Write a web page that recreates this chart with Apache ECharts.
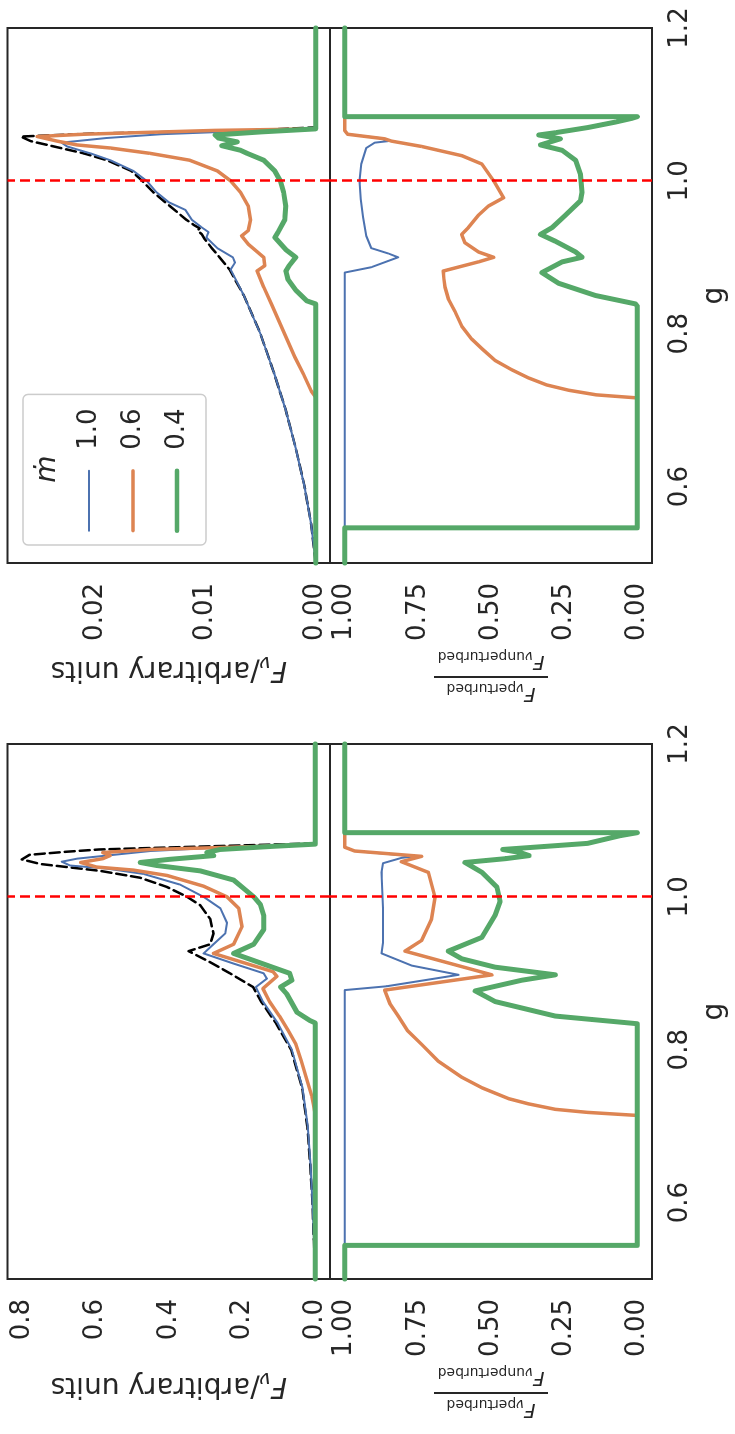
<!DOCTYPE html>
<html>
<head>
<meta charset="utf-8">
<script src="https://cdn.jsdelivr.net/npm/echarts@6/dist/echarts.min.js"></script>
<style>
  html, body { margin: 0; padding: 0; background: #fff; }
  body { width: 735px; height: 1434px; overflow: hidden; position: relative; }
  /* figure is laid out landscape and turned a quarter turn anticlockwise */
  #chart {
    position: absolute; left: 0; top: 0;
    width: 1434px; height: 735px;
    transform-origin: 0 0;
    transform: translate(0, 1434px) rotate(-90deg);
  }
</style>
</head>
<body>
<div id="chart"></div>
<script>
// ---------- data: left panel (large scale) ----------
const gBlackL  = [0.50,0.55,0.60,0.65,0.70,0.75,0.80,0.835,0.863,0.882,0.900,0.915,0.929,0.938,0.952,0.971,0.989,1.000,1.013,1.025,1.034,1.039,1.043,1.049,1.055,1.059,1.062,1.066,1.070,1.20];
const fBlackL  = [0,0.004,0.008,0.014,0.022,0.036,0.066,0.108,0.148,0.170,0.233,0.289,0.346,0.287,0.278,0.287,0.314,0.350,0.405,0.478,0.587,0.678,0.750,0.801,0.780,0.680,0.590,0.300,0,0];

const gBlueL   = [0.50,0.55,0.60,0.65,0.70,0.75,0.80,0.835,0.863,0.882,0.893,0.900,0.913,0.926,0.938,0.952,0.966,0.985,1.000,1.016,1.030,1.037,1.041,1.046,1.050,1.053,1.060,1.066,1.070,1.20];
const fBlueL   = [0,0.004,0.008,0.013,0.021,0.035,0.064,0.103,0.143,0.162,0.132,0.141,0.225,0.305,0.278,0.246,0.241,0.259,0.305,0.369,0.469,0.569,0.669,0.692,0.650,0.590,0.450,0.200,0,0];

const gOrangeL = [0.50,0.715,0.725,0.740,0.764,0.785,0.807,0.825,0.844,0.863,0.880,0.896,0.902,0.926,0.938,0.961,0.985,1.000,1.014,1.028,1.035,1.039,1.045,1.050,1.054,1.058,1.062,1.066,1.069,1.20];
const fOrangeL = [0,0,0.004,0.010,0.025,0.038,0.053,0.074,0.098,0.125,0.143,0.105,0.115,0.278,0.223,0.200,0.209,0.241,0.305,0.405,0.496,0.597,0.640,0.580,0.560,0.580,0.450,0.150,0,0];

const gGreenL  = [0.50,0.835,0.838,0.849,0.873,0.882,0.891,0.900,0.926,0.938,0.957,0.976,0.990,1.000,1.022,1.034,1.041,1.045,1.049,1.054,1.058,1.062,1.066,1.069,1.20];
const fGreenL  = [0,0,0.014,0.050,0.078,0.095,0.064,0.070,0.223,0.168,0.141,0.141,0.150,0.168,0.223,0.314,0.432,0.478,0.400,0.277,0.296,0.260,0.120,0,0];

const gBlueLR   = [0.50,0.878,0.883,0.898,0.910,0.926,0.940,0.985,1.032,1.044,1.051,1.053,1.060,1.065,1.20];
const rBlueLR   = [1,1,0.857,0.611,0.770,0.874,0.869,0.869,0.874,0.869,0.806,0.760,0.966,1,1];

const gOrangeLR = [0.50,0.544,0.544,0.714,0.718,0.722,0.729,0.736,0.750,0.764,0.785,0.807,0.825,0.844,0.860,0.878,0.898,0.929,0.943,0.971,0.999,1.032,1.046,1.053,1.060,1.065,1.20];
const rOrangeLR = [1,1,0,0,0.170,0.280,0.370,0.440,0.530,0.600,0.680,0.737,0.785,0.817,0.845,0.863,0.497,0.794,0.737,0.703,0.691,0.714,0.806,0.737,0.966,1,1];

const gGreenLR  = [0.50,0.544,0.544,0.834,0.844,0.863,0.877,0.891,0.898,0.908,0.919,0.929,0.947,0.976,0.994,1.013,1.032,1.045,1.050,1.054,1.058,1.062,1.070,1.080,1.084,1.084,1.20];
const rGreenLR  = [1,1,0,0,0.280,0.486,0.554,0.394,0.280,0.486,0.600,0.646,0.531,0.486,0.469,0.480,0.531,0.589,0.450,0.370,0.400,0.460,0.170,0.060,0,1,1];

// ---------- data: right panel (small scale) ----------
const gBlackR  = [0.50,0.55,0.60,0.65,0.70,0.75,0.80,0.85,0.884,0.900,0.912,0.925,0.930,0.935,0.938,0.942,0.949,0.967,0.985,1.000,1.013,1.027,1.036,1.045,1.052,1.058,1.062,1.066,1.070,1.20];
const fBlackR  = [0,0.0004,0.0010,0.0018,0.0027,0.0038,0.0050,0.0065,0.0078,0.0087,0.0094,0.0101,0.0103,0.0107,0.0105,0.0110,0.0117,0.0132,0.0147,0.0157,0.0167,0.0189,0.0210,0.0237,0.0258,0.0267,0.0200,0.0060,0,0];

const gBlueR   = [0.50,0.55,0.60,0.65,0.70,0.75,0.80,0.85,0.884,0.893,0.900,0.912,0.926,0.933,0.940,0.949,0.962,0.972,0.985,1.000,1.013,1.027,1.036,1.045,1.050,1.056,1.061,1.066,1.068,1.20];
const fBlueR   = [0,0.0004,0.0010,0.0018,0.0027,0.0038,0.0050,0.0065,0.0077,0.0073,0.0075,0.0089,0.0099,0.0097,0.0104,0.0112,0.0118,0.0133,0.0144,0.0153,0.0165,0.0186,0.0204,0.0225,0.0230,0.0190,0.0140,0.0050,0,0];

const gOrangeR = [0.50,0.717,0.725,0.747,0.770,0.793,0.816,0.839,0.861,0.882,0.889,0.900,0.917,0.928,0.935,0.949,0.967,0.985,1.000,1.013,1.027,1.036,1.043,1.047,1.052,1.058,1.061,1.066,1.068,1.20];
const fOrangeR = [0,0,0.0004,0.0011,0.0019,0.0026,0.0033,0.0040,0.0047,0.0053,0.0046,0.0047,0.0061,0.0067,0.0061,0.0059,0.0061,0.0068,0.0077,0.0089,0.0114,0.0150,0.0186,0.0216,0.0234,0.0252,0.0210,0.0092,0,0];

const gGreenR  = [0.50,0.839,0.843,0.857,0.871,0.882,0.889,0.900,0.910,0.926,0.933,0.949,0.967,0.985,1.000,1.013,1.027,1.036,1.040,1.046,1.051,1.056,1.060,1.064,1.068,1.20];
const fGreenR  = [0,0,0.0008,0.0018,0.0025,0.0027,0.0024,0.0018,0.0027,0.0037,0.0034,0.0028,0.0027,0.0029,0.0032,0.0037,0.0047,0.0062,0.0068,0.0085,0.0071,0.0088,0.0091,0.0050,0,0];

const gBlueRR   = [0.50,0.880,0.887,0.900,0.905,0.912,0.928,0.953,0.976,1.000,1.022,1.043,1.050,1.052,1.056,1.061,1.066,1.20];
const rBlueRR   = [1,1,0.909,0.817,0.851,0.909,0.926,0.937,0.945,0.949,0.943,0.926,0.897,0.851,0.880,0.990,1,1];

const gOrangeRR = [0.50,0.546,0.546,0.716,0.720,0.726,0.733,0.742,0.753,0.765,0.780,0.793,0.810,0.829,0.845,0.861,0.872,0.882,0.894,0.900,0.907,0.919,0.930,0.939,0.955,0.967,0.978,1.000,1.022,1.033,1.045,1.052,1.055,1.061,1.066,1.20];
const rOrangeRR = [1,1,0,0,0.140,0.234,0.310,0.371,0.430,0.486,0.530,0.566,0.600,0.623,0.645,0.657,0.661,0.663,0.543,0.491,0.543,0.589,0.600,0.577,0.543,0.509,0.457,0.491,0.531,0.600,0.737,0.840,0.863,0.990,1,1];

const gGreenRR  = [0.50,0.546,0.546,0.836,0.839,0.850,0.866,0.880,0.894,0.900,0.907,0.921,0.930,0.939,0.955,0.974,0.985,1.008,1.027,1.040,1.047,1.055,1.060,1.063,1.070,1.077,1.082,1.084,1.084,1.20];
const rGreenRR  = [1,1,0,0,0.006,0.143,0.269,0.326,0.257,0.189,0.211,0.280,0.331,0.291,0.246,0.194,0.189,0.194,0.211,0.257,0.331,0.263,0.337,0.280,0.166,0.074,0.017,0,1,1];

// ---------- axes and labels ----------
const gRange      = [0.5, 1.2];
const gTicks      = [0.6, 0.8, 1.0, 1.2];
const gMarker     = 1.0;
const fRangeL     = [-0.04, 0.84];
const fTicksL     = [0.0, 0.2, 0.4, 0.6, 0.8];
const fRangeR     = [-0.0013, 0.0279];
const fTicksR     = [0.00, 0.01, 0.02];
const ratioRange  = [-0.05, 1.05];
const ratioTicks  = [0.00, 0.25, 0.50, 0.75, 1.00];
const mdotLabels  = ['1.0', '0.6', '0.4'];

const INK = '#262626';
const BLUE = '#4c72b0', ORANGE = '#dd8452', GREEN = '#55a868';
const FONT = 'DejaVu Sans';
const W_BLUE = 2, W_ORANGE = 3.5, W_GREEN = 5;

const pairs = (g, v) => g.map((x, i) => [x, v[i]]);

// grids: [left panel F, left panel ratio, right panel F, right panel ratio]
const panelLeft = [155, 871];
const panelWidth = 535;
const grids = [];
panelLeft.forEach(l => {
  grids.push({ left: l, top: 7.5, width: panelWidth, height: 322.5, show: true, borderColor: INK, borderWidth: 2, backgroundColor: 'transparent', containLabel: false });
  grids.push({ left: l, top: 330, width: panelWidth, height: 322, show: true, borderColor: INK, borderWidth: 2, backgroundColor: 'transparent', containLabel: false });
});

function gAxis(gridIndex, showLabels) {
  return {
    type: 'value', gridIndex, min: gRange[0], max: gRange[1],
    axisLine: { show: false }, axisTick: { show: false }, splitLine: { show: false },
    axisLabel: {
      show: showLabels, customValues: gTicks, formatter: v => v.toFixed(1),
      fontSize: 26, color: INK, margin: 15, fontFamily: FONT
    },
    name: showLabels ? 'g' : '', nameLocation: 'middle', nameGap: 49,
    nameTextStyle: { fontSize: 28, color: INK, fontFamily: FONT }
  };
}

const fluxName = '{it|F}{sub|ν}{n|/arbitrary units}';
const fluxRich = {
  it: { fontStyle: 'italic', fontSize: 28, fontFamily: FONT, color: INK },
  sub: { fontStyle: 'italic', fontSize: 20, fontFamily: FONT, color: INK, padding: [14, 0, 0, 0] },
  n: { fontSize: 28, fontFamily: FONT, color: INK }
};
const ratioName = '{F|F}{nu|ν}{s|perturbed}\n{bar| }\n{F|F}{nu|ν}{s|unperturbed}';
const ratioRich = {
  F: { fontStyle: 'italic', fontSize: 20, lineHeight: 22, fontFamily: FONT, color: INK },
  nu: { fontStyle: 'italic', fontSize: 14, fontFamily: FONT, color: INK, padding: [10, 0, 0, 0] },
  s: { fontSize: 14, fontFamily: FONT, color: INK, padding: [10, 0, 0, 0] },
  bar: { width: 114, height: 2, lineHeight: 8, fontSize: 1, backgroundColor: INK }
};

function valAxis(gridIndex, range, ticks, digits, name, rich, gap) {
  return {
    type: 'value', gridIndex, min: range[0], max: range[1], position: 'left',
    axisLine: { show: false }, axisTick: { show: false }, splitLine: { show: false },
    axisLabel: {
      customValues: ticks, formatter: v => v.toFixed(digits),
      fontSize: 26, color: INK, margin: 20, fontFamily: FONT
    },
    name, nameLocation: 'middle', nameRotate: 90, nameGap: gap,
    nameTextStyle: { rich, align: 'center' }
  };
}

const xAxes = [gAxis(0, false), gAxis(1, true), gAxis(2, false), gAxis(3, true)];
const yAxes = [
  valAxis(0, fRangeL, fTicksL, 1, fluxName, fluxRich, 89),
  valAxis(1, ratioRange, ratioTicks, 2, ratioName, ratioRich, 86),
  valAxis(2, fRangeR, fTicksR, 2, fluxName, fluxRich, 89),
  valAxis(3, ratioRange, ratioTicks, 2, ratioName, ratioRich, 86)
];

function curve(name, idx, g, v, color, width, dash) {
  return {
    type: 'line', name, xAxisIndex: idx, yAxisIndex: idx,
    data: pairs(g, v), showSymbol: false, symbol: 'none', smooth: false,
    silent: true, emphasis: { disabled: true },
    lineStyle: { color, width, type: dash || 'solid', cap: 'round', join: 'round' },
    itemStyle: { color }
  };
}
function marker(idx) {
  return {
    type: 'line', name: 'g marker', xAxisIndex: idx, yAxisIndex: idx, data: [], silent: true,
    z: 10,
    markLine: {
      silent: true, symbol: ['none', 'none'], label: { show: false }, animation: false,
      lineStyle: { color: '#ff0000', width: 2.5, type: [10, 5] },
      data: [{ xAxis: gMarker }]
    }
  };
}

const series = [
  // left panel, flux
  curve('unperturbed', 0, gBlackL, fBlackL, '#000000', 2.5, [10, 5]),
  curve(mdotLabels[0], 0, gBlueL, fBlueL, BLUE, W_BLUE),
  curve(mdotLabels[1], 0, gOrangeL, fOrangeL, ORANGE, W_ORANGE),
  curve(mdotLabels[2], 0, gGreenL, fGreenL, GREEN, W_GREEN),
  marker(0),
  // left panel, ratio
  curve(mdotLabels[0], 1, gBlueLR, rBlueLR, BLUE, W_BLUE),
  curve(mdotLabels[1], 1, gOrangeLR, rOrangeLR, ORANGE, W_ORANGE),
  curve(mdotLabels[2], 1, gGreenLR, rGreenLR, GREEN, W_GREEN),
  marker(1),
  // right panel, flux
  curve('unperturbed', 2, gBlackR, fBlackR, '#000000', 2.5, [10, 5]),
  curve(mdotLabels[0], 2, gBlueR, fBlueR, BLUE, W_BLUE),
  curve(mdotLabels[1], 2, gOrangeR, fOrangeR, ORANGE, W_ORANGE),
  curve(mdotLabels[2], 2, gGreenR, fGreenR, GREEN, W_GREEN),
  marker(2),
  // right panel, ratio
  curve(mdotLabels[0], 3, gBlueRR, rBlueRR, BLUE, W_BLUE),
  curve(mdotLabels[1], 3, gOrangeRR, rOrangeRR, ORANGE, W_ORANGE),
  curve(mdotLabels[2], 3, gGreenRR, rGreenRR, GREEN, W_GREEN),
  marker(3)
];

const legendWidths = [W_BLUE, W_ORANGE * 0.95, W_GREEN * 0.9];

const option = {
  animation: false,
  backgroundColor: '#ffffff',
  textStyle: { fontFamily: FONT, color: INK },
  grid: grids,
  xAxis: xAxes,
  yAxis: yAxes,
  legend: {
    data: mdotLabels.map((n, i) => ({
      name: n,
      itemStyle: { opacity: 0 },
      lineStyle: { width: legendWidths[i], cap: 'round' }
    })),
    orient: 'vertical',
    left: 889, top: 23,
    padding: [53, 14, 16, 12],
    itemWidth: 60, itemHeight: 26, itemGap: 18,
    backgroundColor: 'rgba(255,255,255,0.8)',
    borderColor: '#cccccc', borderWidth: 1.5, borderRadius: 5,
    selectedMode: false,
    itemStyle: { opacity: 0 },
    textStyle: { fontSize: 26, color: INK, fontFamily: FONT, padding: [0, 0, 0, 16] },
    z: 20
  },
  graphic: [{
    type: 'text', x: 965, y: 48, z: 30, silent: true,
    style: {
      text: 'ṁ', fill: INK, font: 'italic 28px "DejaVu Sans"',
      align: 'center', verticalAlign: 'middle', textAlign: 'center', textVerticalAlign: 'middle'
    }
  }],
  series
};

const chart = echarts.init(document.getElementById('chart'), null, { renderer: 'canvas', width: 1434, height: 735 });
chart.setOption(option);
</script>
</body>
</html>
